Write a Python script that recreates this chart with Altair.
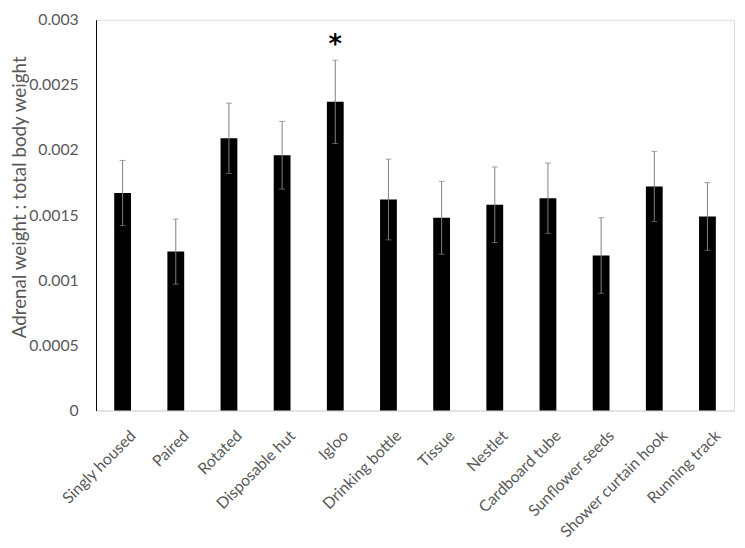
import altair as alt
import pandas as pd

categories = ["Singly housed", "Paired", "Rotated", "Disposable hut", "Igloo",
              "Drinking bottle", "Tissue", "Nestlet", "Cardboard tube",
              "Sunflower seeds", "Shower curtain hook", "Running track"]
means = [0.00167, 0.00122, 0.00209, 0.00196, 0.00237, 0.00162,
         0.00148, 0.00158, 0.00163, 0.00119, 0.00172, 0.00149]
errors = [0.00025, 0.00025, 0.00027, 0.00026, 0.00032, 0.00031,
          0.00028, 0.00029, 0.00027, 0.00029, 0.00027, 0.00026]
marks = ["", "", "", "", "*", "", "", "", "", "", "", ""]
y_ticks = [0, 0.0005, 0.001, 0.0015, 0.002, 0.0025, 0.003]

df = pd.DataFrame({"cat": categories, "mean": means, "err": errors, "mark": marks})
df["lo"] = df["mean"] - df["err"]
df["hi"] = df["mean"] + df["err"]

FONT = "Lato"
GRAY = "#595959"

xenc = alt.X("cat:N", sort=categories, title=None,
             scale=alt.Scale(paddingInner=0.684, paddingOuter=0.342),
             axis=alt.Axis(labelAngle=-45, labelAlign="right", labelBaseline="top",
                           labelPadding=17, labelOffset=5, ticks=False,
                           domainColor="#d9d9d9", domainWidth=1,
                           labelColor=GRAY, labelFont=FONT, labelFontSize=16,
                           labelLimit=300))

yscale = alt.Scale(domain=[0, 0.003], nice=False)

bars = alt.Chart(df).mark_bar(color="black").encode(
    x=xenc,
    y=alt.Y("mean:Q", scale=yscale, title="Adrenal weight : total body weight",
            axis=alt.Axis(values=y_ticks, format="~g", grid=False, ticks=False,
                          domainColor="black", domainWidth=1,
                          labelPadding=18, labelColor=GRAY, labelFont=FONT,
                          labelFontSize=16, titleColor=GRAY, titleFont=FONT,
                          titleFontSize=19, titleFontWeight="normal",
                          titleX=-77, titleY=179, titleAngle=270,
                          titleAlign="center", titleBaseline="middle")),
)

rules = alt.Chart(df).mark_rule(color="#7f7f7f", strokeWidth=1).encode(
    x=alt.X("cat:N", sort=categories),
    y=alt.Y("lo:Q", scale=yscale),
    y2="hi:Q",
)

caps_hi = alt.Chart(df).mark_tick(color="#7f7f7f", thickness=1, size=6, orient="horizontal").encode(
    x=alt.X("cat:N", sort=categories),
    y=alt.Y("hi:Q", scale=yscale),
)
caps_lo = alt.Chart(df).mark_tick(color="#7f7f7f", thickness=1, size=6, orient="horizontal").encode(
    x=alt.X("cat:N", sort=categories),
    y=alt.Y("lo:Q", scale=yscale),
)

star = alt.Chart(df).mark_text(font="DejaVu Sans", fontWeight="bold", fontSize=26,
                               baseline="alphabetic", dy=-7, color="black").encode(
    x=alt.X("cat:N", sort=categories),
    y=alt.Y("hi:Q", scale=yscale),
    text="mark:N",
)

chart = alt.layer(bars, rules, caps_hi, caps_lo, star).properties(
    width=645, height=395,
    autosize=alt.AutoSizeParams(type="none"),
    padding={"left": 89, "top": 9, "right": 3, "bottom": 128},
).configure_view(stroke=None).configure(background="white")

chart.save("out.html", embed_options={"renderer": "svg", "actions": False})
